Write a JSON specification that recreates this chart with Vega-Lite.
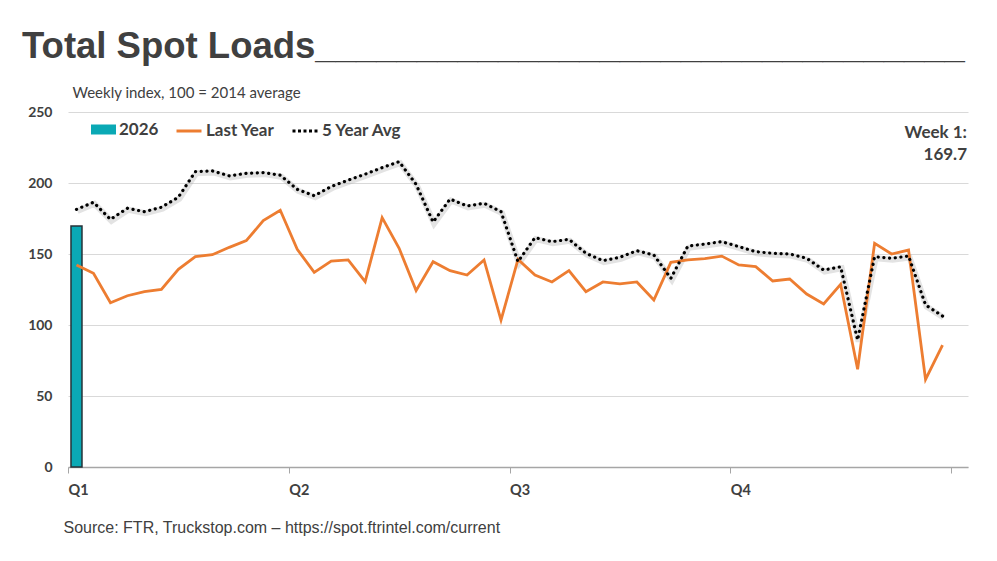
{
  "$schema": "https://vega.github.io/schema/vega-lite/v6.json",
  "autosize": {"type": "none"},
  "width": 900,
  "height": 355,
  "padding": {"left": 68, "top": 112, "right": 29, "bottom": 94},
  "background": "white",
  "title": {
    "text": "Total Spot Loads________________________________",
    "anchor": "start",
    "frame": "group",
    "font": "Liberation Sans",
    "fontSize": 36.5,
    "fontWeight": "bold",
    "color": "#404040",
    "dx": -46,
    "dy": 29,
    "baseline": "alphabetic",
    "offset": 20
  },
  "config": {
    "view": {"stroke": null},
    "font": "Lato",
    "legend": {
      "orient": "none",
      "direction": "horizontal",
      "title": null,
      "padding": 0,
      "labelFont": "Lato",
      "labelFontSize": 17,
      "labelFontWeight": "bold",
      "labelColor": "#404040",
      "labelOffset": 3,
      "symbolSize": 625,
      "symbolOpacity": 1
    }
  },
  "resolve": {"scale": {"stroke": "independent"}, "legend": {"stroke": "independent"}},
  "datasets": {
    "current": [
      {"week": 1, "series": "2026", "value": 169.7}
    ],
    "lastYear": [
      {"week": 1, "series": "Last Year", "value": 142.3},
      {"week": 2, "series": "Last Year", "value": 136.4},
      {"week": 3, "series": "Last Year", "value": 115.7},
      {"week": 4, "series": "Last Year", "value": 120.6},
      {"week": 5, "series": "Last Year", "value": 123.5},
      {"week": 6, "series": "Last Year", "value": 125.1},
      {"week": 7, "series": "Last Year", "value": 139.2},
      {"week": 8, "series": "Last Year", "value": 148.1},
      {"week": 9, "series": "Last Year", "value": 149.5},
      {"week": 10, "series": "Last Year", "value": 154.7},
      {"week": 11, "series": "Last Year", "value": 159.4},
      {"week": 12, "series": "Last Year", "value": 173.5},
      {"week": 13, "series": "Last Year", "value": 180.8},
      {"week": 14, "series": "Last Year", "value": 153.3},
      {"week": 15, "series": "Last Year", "value": 137.1},
      {"week": 16, "series": "Last Year", "value": 145.0},
      {"week": 17, "series": "Last Year", "value": 145.8},
      {"week": 18, "series": "Last Year", "value": 130.5},
      {"week": 19, "series": "Last Year", "value": 175.6},
      {"week": 20, "series": "Last Year", "value": 154.0},
      {"week": 21, "series": "Last Year", "value": 124.2},
      {"week": 22, "series": "Last Year", "value": 144.6},
      {"week": 23, "series": "Last Year", "value": 138.3},
      {"week": 24, "series": "Last Year", "value": 135.2},
      {"week": 25, "series": "Last Year", "value": 145.8},
      {"week": 26, "series": "Last Year", "value": 103.5},
      {"week": 27, "series": "Last Year", "value": 146.2},
      {"week": 28, "series": "Last Year", "value": 135.2},
      {"week": 29, "series": "Last Year", "value": 130.3},
      {"week": 30, "series": "Last Year", "value": 138.3},
      {"week": 31, "series": "Last Year", "value": 123.5},
      {"week": 32, "series": "Last Year", "value": 130.3},
      {"week": 33, "series": "Last Year", "value": 128.9},
      {"week": 34, "series": "Last Year", "value": 130.3},
      {"week": 35, "series": "Last Year", "value": 117.6},
      {"week": 36, "series": "Last Year", "value": 144.1},
      {"week": 37, "series": "Last Year", "value": 145.8},
      {"week": 38, "series": "Last Year", "value": 146.8},
      {"week": 39, "series": "Last Year", "value": 148.5},
      {"week": 40, "series": "Last Year", "value": 142.3},
      {"week": 41, "series": "Last Year", "value": 141.1},
      {"week": 42, "series": "Last Year", "value": 131.0},
      {"week": 43, "series": "Last Year", "value": 132.4},
      {"week": 44, "series": "Last Year", "value": 121.8},
      {"week": 45, "series": "Last Year", "value": 114.8},
      {"week": 46, "series": "Last Year", "value": 128.6},
      {"week": 47, "series": "Last Year", "value": 68.8},
      {"week": 48, "series": "Last Year", "value": 157.5},
      {"week": 49, "series": "Last Year", "value": 150.0},
      {"week": 50, "series": "Last Year", "value": 152.8},
      {"week": 51, "series": "Last Year", "value": 61.7},
      {"week": 52, "series": "Last Year", "value": 85.9}
    ],
    "fiveYear": [
      {"week": 1, "series": "5 Year Avg", "value": 181.4},
      {"week": 2, "series": "5 Year Avg", "value": 186.4},
      {"week": 3, "series": "5 Year Avg", "value": 174.4},
      {"week": 4, "series": "5 Year Avg", "value": 182.2},
      {"week": 5, "series": "5 Year Avg", "value": 179.8},
      {"week": 6, "series": "5 Year Avg", "value": 182.9},
      {"week": 7, "series": "5 Year Avg", "value": 190.0},
      {"week": 8, "series": "5 Year Avg", "value": 208.0},
      {"week": 9, "series": "5 Year Avg", "value": 208.5},
      {"week": 10, "series": "5 Year Avg", "value": 205.0},
      {"week": 11, "series": "5 Year Avg", "value": 206.8},
      {"week": 12, "series": "5 Year Avg", "value": 207.3},
      {"week": 13, "series": "5 Year Avg", "value": 205.5},
      {"week": 14, "series": "5 Year Avg", "value": 195.5},
      {"week": 15, "series": "5 Year Avg", "value": 191.0},
      {"week": 16, "series": "5 Year Avg", "value": 197.5},
      {"week": 17, "series": "5 Year Avg", "value": 202.0},
      {"week": 18, "series": "5 Year Avg", "value": 206.2},
      {"week": 19, "series": "5 Year Avg", "value": 210.8},
      {"week": 20, "series": "5 Year Avg", "value": 215.0},
      {"week": 21, "series": "5 Year Avg", "value": 199.0},
      {"week": 22, "series": "5 Year Avg", "value": 172.5},
      {"week": 23, "series": "5 Year Avg", "value": 188.7},
      {"week": 24, "series": "5 Year Avg", "value": 183.8},
      {"week": 25, "series": "5 Year Avg", "value": 185.7},
      {"week": 26, "series": "5 Year Avg", "value": 179.8},
      {"week": 27, "series": "5 Year Avg", "value": 144.6},
      {"week": 28, "series": "5 Year Avg", "value": 161.5},
      {"week": 29, "series": "5 Year Avg", "value": 158.7},
      {"week": 30, "series": "5 Year Avg", "value": 160.3},
      {"week": 31, "series": "5 Year Avg", "value": 150.5},
      {"week": 32, "series": "5 Year Avg", "value": 145.3},
      {"week": 33, "series": "5 Year Avg", "value": 147.7},
      {"week": 34, "series": "5 Year Avg", "value": 152.3},
      {"week": 35, "series": "5 Year Avg", "value": 149.3},
      {"week": 36, "series": "5 Year Avg", "value": 132.9},
      {"week": 37, "series": "5 Year Avg", "value": 155.5},
      {"week": 38, "series": "5 Year Avg", "value": 157.0},
      {"week": 39, "series": "5 Year Avg", "value": 158.7},
      {"week": 40, "series": "5 Year Avg", "value": 155.2},
      {"week": 41, "series": "5 Year Avg", "value": 151.6},
      {"week": 42, "series": "5 Year Avg", "value": 150.5},
      {"week": 43, "series": "5 Year Avg", "value": 150.0},
      {"week": 44, "series": "5 Year Avg", "value": 147.0},
      {"week": 45, "series": "5 Year Avg", "value": 138.7},
      {"week": 46, "series": "5 Year Avg", "value": 141.0},
      {"week": 47, "series": "5 Year Avg", "value": 89.4},
      {"week": 48, "series": "5 Year Avg", "value": 148.1},
      {"week": 49, "series": "5 Year Avg", "value": 147.0},
      {"week": 50, "series": "5 Year Avg", "value": 148.6},
      {"week": 51, "series": "5 Year Avg", "value": 114.1},
      {"week": 52, "series": "5 Year Avg", "value": 106.3}
    ],
    "note": [
      {"label": "Week 1:\n169.7"}
    ]
  },
  "layer": [
    {
      "data": {"name": "current"},
      "mark": {"type": "bar", "size": 11, "stroke": "#263238", "strokeWidth": 1.5},
      "encoding": {
        "x": {
          "field": "week",
          "type": "quantitative",
          "scale": {"domain": [0.5, 53.5], "nice": false, "zero": false, "padding": 0},
          "axis": {
            "values": [0.5, 13.5, 26.5, 39.5, 52.5],
            "labelExpr": "datum.value < 1 ? 'Q1' : datum.value < 14 ? 'Q2' : datum.value < 27 ? 'Q3' : datum.value < 40 ? 'Q4' : ''",
            "labelAlign": "left",
            "labelFlush": false,
            "labelOverlap": false,
            "labelFont": "Lato",
            "labelFontSize": 14.5,
            "labelFontWeight": "bold",
            "labelColor": "#404040",
            "labelPadding": 10,
            "grid": false,
            "domainColor": "#a6a6a6",
            "domainWidth": 1.3,
            "tickColor": "#a6a6a6",
            "tickSize": 6,
            "title": "Source: FTR, Truckstop.com \u2013 https://spot.ftrintel.com/current",
            "titleFont": "Liberation Sans",
            "titleFontSize": 16,
            "titleFontWeight": "normal",
            "titleColor": "#404040",
            "titleAlign": "left",
            "titleAnchor": "start",
            "titleBaseline": "middle",
            "titleX": -5,
            "titleY": 60
          }
        },
        "y": {
          "field": "value",
          "type": "quantitative",
          "scale": {"domain": [0, 250], "nice": false},
          "axis": {
            "values": [0, 50, 100, 150, 200, 250],
            "labelFont": "Lato",
            "labelFontSize": 14,
            "labelFontWeight": "bold",
            "labelColor": "#404040",
            "labelPadding": 16,
            "ticks": false,
            "domain": false,
            "grid": true,
            "gridColor": "#d9d9d9",
            "gridWidth": 1.2,
            "title": "Weekly index, 100 = 2014 average",
            "titleAngle": 0,
            "titleAlign": "left",
            "titleBaseline": "middle",
            "titleFont": "Lato",
            "titleFontSize": 15,
            "titleFontWeight": "normal",
            "titleColor": "#404040",
            "titleX": 4,
            "titleY": -20
          }
        },
        "fill": {
          "field": "series",
          "type": "nominal",
          "scale": {"range": ["#0AA9B5"]},
          "legend": {
            "legendX": 23,
            "legendY": 5,
            "symbolType": "M-1,-0.4H1V0.4H-1Z",
            "symbolStrokeWidth": 0,
            "symbolStrokeColor": "transparent"
          }
        }
      }
    },
    {
      "data": {"name": "fiveYear"},
      "mark": {"type": "line", "color": "#b0b0b0", "strokeWidth": 6, "opacity": 0.35, "yOffset": 1.5, "xOffset": 1},
      "encoding": {
        "x": {"field": "week", "type": "quantitative"},
        "y": {"field": "value", "type": "quantitative"}
      }
    },
    {
      "data": {"name": "lastYear"},
      "mark": {"type": "line", "strokeWidth": 2.8, "strokeJoin": "miter"},
      "encoding": {
        "x": {"field": "week", "type": "quantitative"},
        "y": {"field": "value", "type": "quantitative"},
        "stroke": {
          "field": "series",
          "type": "nominal",
          "scale": {"range": ["#ED7D31"]},
          "legend": {
            "legendX": 107,
            "legendY": 5,
            "symbolType": "stroke",
            "symbolStrokeWidth": 3
          }
        }
      }
    },
    {
      "data": {"name": "fiveYear"},
      "mark": {"type": "line", "strokeWidth": 3.2, "strokeDash": [0.1, 5.6], "strokeCap": "round"},
      "encoding": {
        "x": {"field": "week", "type": "quantitative"},
        "y": {"field": "value", "type": "quantitative"},
        "stroke": {
          "field": "series",
          "type": "nominal",
          "scale": {"range": ["#000000"]},
          "legend": {
            "legendX": 223,
            "legendY": 5,
            "symbolType": "stroke",
            "symbolStrokeWidth": 3,
            "symbolDash": [3, 2.5]
          }
        }
      }
    },
    {
      "data": {"name": "note"},
      "mark": {"type": "text", "align": "right", "baseline": "middle", "lineBreak": "\n", "lineHeight": 22, "font": "Lato", "fontSize": 17, "fontWeight": "bold", "color": "#404040", "dx": -1},
      "encoding": {
        "x": {"datum": 53.5, "type": "quantitative"},
        "y": {"datum": 235, "type": "quantitative"},
        "text": {"field": "label"}
      }
    }
  ]
}
